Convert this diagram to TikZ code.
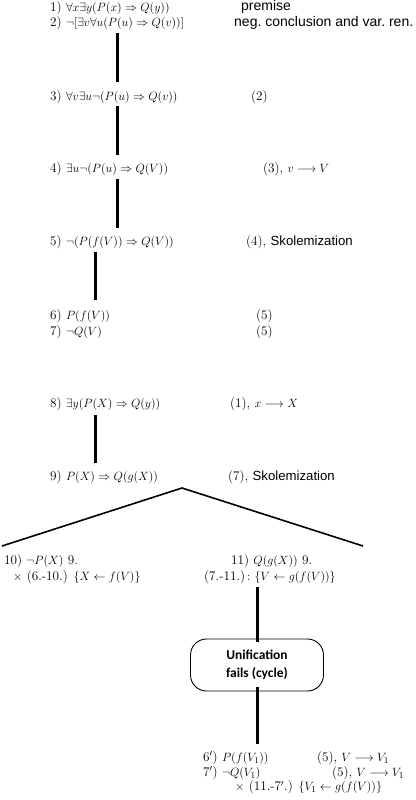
\documentclass[tikz,border=0pt]{standalone}
\usepackage{fontspec}
\setsansfont{Liberation Sans}
\newfontfamily\boxfont{Carlito}
\usetikzlibrary{calc}
\begin{document}
\begin{tikzpicture}[x=1pt,y=-1pt,
  m/.style={anchor=west,inner sep=0pt,font=\fontsize{13.2}{14}\selectfont},
  s/.style={anchor=west,inner sep=0pt,font=\fontsize{14}{15}\selectfont\sffamily},
  conn/.style={line width=3pt},
  branch/.style={line width=1.6pt},
  fail/.style={draw,line width=0.9pt,rounded corners=16pt,minimum width=133pt,minimum height=52pt,
    align=center,font=\fontsize{13.5}{17.5}\selectfont\boxfont\bfseries}]
\useasboundingbox (0,0) rectangle (415,800);
% left column
\node[m] (l1) at (50,8) {1) $\forall x\exists y(P(x)\Rightarrow Q(y))$};
\node[m] (l2) at (50,23) {2) $\neg[\exists v\forall u(P(u)\Rightarrow Q(v))]$};
\node[m] (l3) at (50,97) {3) $\forall v\exists u\neg(P(u)\Rightarrow Q(v))$};
\node[m] (l4) at (50,169) {4) $\exists u\neg(P(u)\Rightarrow Q(V))$};
\node[m] (l5) at (50,242) {5) $\neg(P(f(V))\Rightarrow Q(V))$};
\node[m] (l6) at (50,316) {6) $P(f(V))$};
\node[m] (l7) at (50,332) {7) $\neg Q(V)$};
\node[m] (l8) at (50,404) {8) $\exists y(P(X)\Rightarrow Q(y))$};
\node[m] (l9) at (50,477) {9) $P(X)\Rightarrow Q(g(X))$};
% reasons
\node[s] (r1) at (241,7) {premise};
\node[s] (r2) at (234,23) {neg.\ conclusion and var.\ ren.};
\node[m] (r3) at (251,97) {(2)};
\node[m] (r4) at (263,169) {(3), $v\longrightarrow V$};
\node[m] (r5) at (246,242) {(4), {\sffamily Skolemization}};
\node[m] (r6) at (256,316) {(5)};
\node[m] (r7) at (256,332) {(5)};
\node[m] (r8) at (230,404) {(1), $x\longrightarrow X$};
\node[m] (r9) at (228,477) {(7), {\sffamily Skolemization}};
% branches
\node[m] (l10a) at (4,561) {10) $\neg P(X)$ 9.};
\node[m] (l10b) at (13,577) {$\times$ (6.-10.) $\{X\leftarrow f(V)\}$};
\node[m] (l11a) at (231,561) {11) $Q(g(X))$ 9.};
\node[m] (l11b) at (204,577) {(7.-11.)$\,:$ $\{V\leftarrow g(f(V))\}$};
\node[fail] (box) at (257,665) {Unification\\fails (cycle)};
\node[m] (l6p) at (203,758) {6$'$) $P(f(V_1))$};
\node[m] (l7p) at (203,773) {7$'$) $\neg Q(V_1)$};
\node[m] (l12) at (235,787.5) {$\times$ (11.-7$'$.) $\{V_1\leftarrow g(f(V))\}$};
\node[m] (r6p) at (317,758) {(5), $V\longrightarrow V_1$};
\node[m] (r7p) at (332,773) {(5), $V\longrightarrow V_1$};
% connectors
\draw[conn] ($(l2.west)+(67,10)$) -- ($(l3.west)+(67,-15)$);
\draw[conn] ($(l3.west)+(67,9)$) -- ($(l4.west)+(67,-14)$);
\draw[conn] ($(l4.west)+(67,10)$) -- ($(l5.west)+(67,-14)$);
\draw[conn] ($(l5.west)+(45,10)$) -- ($(l6.west)+(45,-16)$);
\draw[conn] ($(l8.west)+(45,11)$) -- ($(l9.west)+(45,-14)$);
\draw[conn] ($(l11b.west)+(53,10)$) -- ([yshift=-3pt]box.north);
\draw[conn] ([yshift=4pt]box.south) -- ($(l6p.west)+(54,-14)$);
\coordinate (apex) at (182,488);
\coordinate (bl) at (2,546);
\coordinate (br) at (363,546);
\draw[branch] (bl) -- (apex) -- (br);
\end{tikzpicture}
\end{document}
